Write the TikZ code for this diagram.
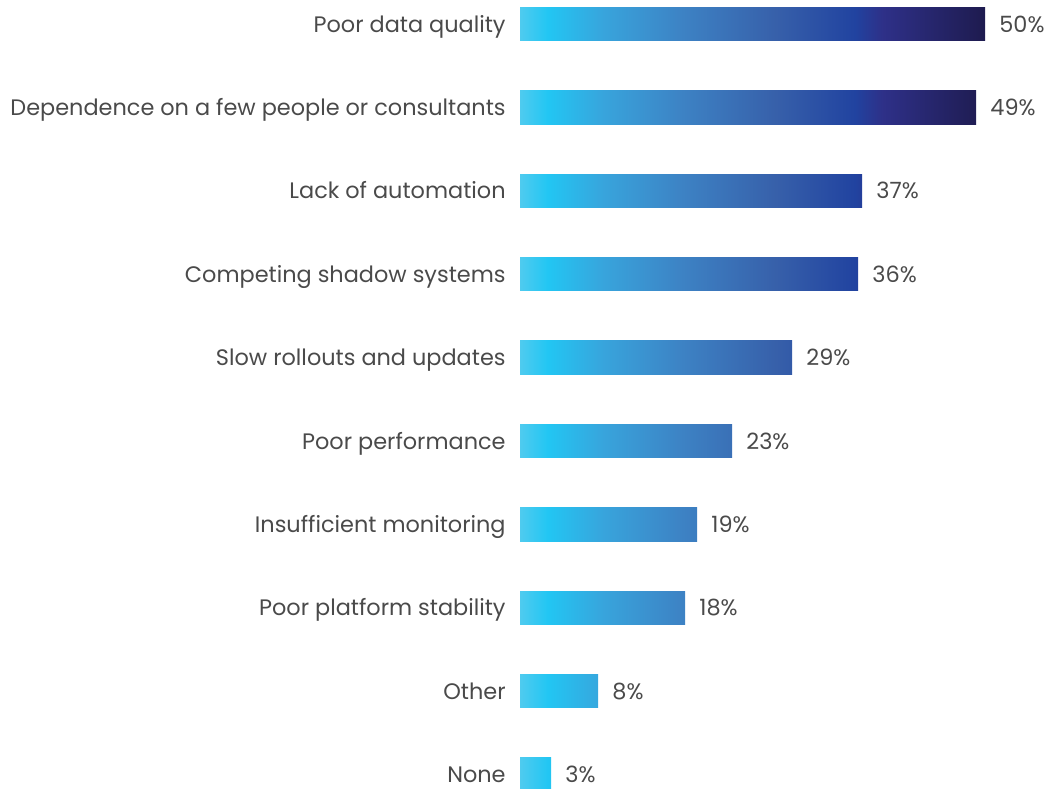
\documentclass[tikz,border=0pt]{standalone}
\usepackage{fontspec}
\setmainfont{Poppins}
\definecolor{txtgray}{HTML}{4A4A4A}
\definecolor{fadeA}{HTML}{4FCBEF}
\definecolor{fadeB}{HTML}{22C6F3}
\definecolor{fadeC}{HTML}{38A4DC}
\definecolor{fadeD}{HTML}{3D82C4}
\definecolor{fadeE}{HTML}{3760AA}
\definecolor{fadeF}{HTML}{2143A0}
\definecolor{fadeG}{HTML}{2E3088}
\definecolor{fadeH}{HTML}{1E1B4F}
% one gradient over the full 50% length, cut to each bar
% (the shaded path maps to 25bp..75bp of the shading)
\pgfdeclarehorizontalshading{barfade}{100bp}{color(0bp)=(fadeA); color(25bp)=(fadeA); color(28bp)=(fadeB); color(34bp)=(fadeC); color(42.5bp)=(fadeD); color(52.5bp)=(fadeE); color(61bp)=(fadeF); color(64bp)=(fadeG); color(75bp)=(fadeH); color(100bp)=(fadeH)}
\tikzset{
  lbl/.style={font=\fontsize{11.2}{13}\selectfont, text=txtgray, inner sep=0pt},
}
\begin{document}
\begin{tikzpicture}[x=0.5pt,y=-0.5pt]
\useasboundingbox (0,0) rectangle (1052,788);

% bars with labels and values
\foreach \txt/\xend/\pct [count=\i from 0] in {
  Poor data quality/985/50,
  Dependence on a few people or consultants/976/49,
  Lack of automation/862/37,
  Competing shadow systems/858/36,
  Slow rollouts and updates/792/29,
  Poor performance/732/23,
  Insufficient monitoring/697/19,
  Poor platform stability/685/18,
  Other/598/8,
  None/551/3}
{
  \pgfmathsetmacro\y{24+83.4*\i}
  \begin{scope}
    \clip (520,\y-16.75) rectangle (\xend,\y+16.75);
    \shade[shading=barfade] (520,\y-17) rectangle (985,\y+17);
  \end{scope}
  \node[lbl, anchor=base east] (lab\i) at (506,\y+8) {\txt};
  \node[lbl, anchor=base west] (val\i) at (\xend+14,\y+8) {\pct\%};
}
\end{tikzpicture}
\end{document}
